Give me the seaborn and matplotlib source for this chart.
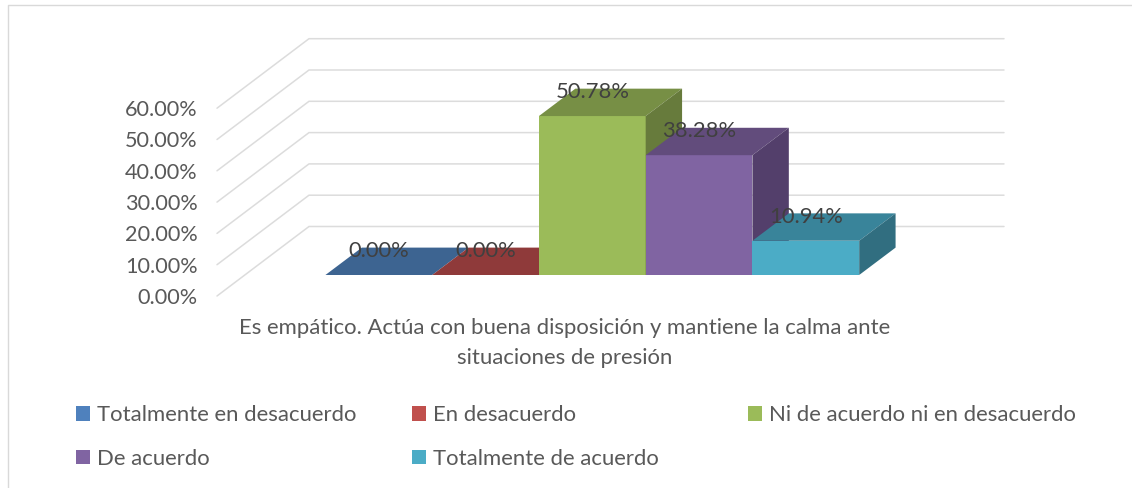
import matplotlib
matplotlib.use('Agg')
import matplotlib.pyplot as plt
from matplotlib.lines import Line2D
from matplotlib.patches import Patch, Polygon
import pandas as pd
import seaborn as sns

# Datos
pregunta = 'Es empático. Actúa con buena disposición y mantiene la calma ante\nsituaciones de presión'
respuestas = ['Totalmente en desacuerdo', 'En desacuerdo', 'Ni de acuerdo ni en desacuerdo',
              'De acuerdo', 'Totalmente de acuerdo']
valores = [0.00, 0.00, 50.78, 38.28, 10.94]
y_ticks = [0, 10, 20, 30, 40, 50, 60]

# Colores: frente, tapa, lateral
frente = ['#4f81bd', '#c0504d', '#9bbb59', '#8064a2', '#4bacc6']
tapa = ['#3d6491', '#8f3a3a', '#778f45', '#624c7c', '#39849a']
lateral = ['#34557c', '#7a3231', '#677b3c', '#533f6b', '#316e80']

sns.set_theme(style='white')
plt.rcParams['font.family'] = ['Lato', 'DejaVu Sans']
W, H = 1132, 488

fig = plt.figure(figsize=(W / 100, H / 100), dpi=100)
ax = fig.add_axes([217 / W, (H - 296) / H, 695 / W, 187.8 / H])

df = pd.DataFrame({'pregunta': pregunta, 'respuesta': respuestas, 'valor': valores})
sns.barplot(data=df, x='pregunta', y='valor', hue='respuesta', hue_order=respuestas,
            palette=frente, saturation=1, width=0.768, gap=0, legend=False, ax=ax)
ax.set_xlim(-0.5, 0.5)
ax.set_ylim(0, 60)

# Un pixel en unidades de datos
px_x = 1 / 695
px_y = 60 / 187.8

# Profundidad de la pared y de las barras
pared_x, pared_y = 92 * px_x, 69.5 * px_y
fondo_x, fondo_y = 36.4 * px_x, 27.4 * px_y
base_x, base_y = 27.8 * px_x, 21 * px_y

# Rejilla en perspectiva
for t in y_ticks:
    ax.plot([-0.5, -0.5 + pared_x, 0.5 + pared_x], [t, t + pared_y, t + pared_y],
            color='#dcdcdc', lw=1.1, clip_on=False, zorder=1, solid_joinstyle='miter')

# Barras: frente desplazado, tapa y lateral
for i, patch in enumerate(ax.patches):
    patch.set_x(patch.get_x() + base_x)
    patch.set_y(patch.get_y() + base_y)
    patch.set_clip_on(False)
    patch.set_zorder(3 + i)
    patch.set_edgecolor('none')
    x0, x1 = patch.get_x(), patch.get_x() + patch.get_width()
    y0, y1 = patch.get_y(), patch.get_y() + patch.get_height()
    ax.add_patch(Polygon([(x0, y1), (x1, y1), (x1 + fondo_x, y1 + fondo_y), (x0 + fondo_x, y1 + fondo_y)],
                         facecolor=tapa[i], edgecolor='none', clip_on=False, zorder=3 + i))
    ax.add_patch(Polygon([(x1, y0), (x1 + fondo_x, y0 + fondo_y), (x1 + fondo_x, y1 + fondo_y), (x1, y1)],
                         facecolor=lateral[i], edgecolor='none', clip_on=False, zorder=3 + i))
    ax.text((x0 + x1) / 2, y1 + 24 * px_y, f'{valores[i]:.2f}%', ha='center', va='center',
            fontsize=15.8, color='#404040', zorder=20)

# Ejes
ax.set_yticks(y_ticks)
ax.set_yticklabels([f'{t:.2f}%' for t in y_ticks], fontsize=15.6, color='#595959')
ax.tick_params(axis='y', length=0, pad=14)
ax.tick_params(axis='x', length=0, pad=16, labelsize=15.9, labelcolor='#595959')
for label in ax.get_xticklabels():
    label.set_linespacing(1.62)
ax.set_xlabel('')
ax.set_ylabel('')
sns.despine(ax=ax, left=True, bottom=True)

# Leyenda: una por columna para respetar las posiciones
columnas = [(0, 3, 76), (1, 4, 412), (2, None, 748)]
for a, b, x_px in columnas:
    idx = [a] if b is None else [a, b]
    fig.legend(handles=[Patch(facecolor=frente[j], edgecolor='none', label=respuestas[j]) for j in idx],
               loc='upper left', bbox_to_anchor=(x_px / W, (H - 405) / H), frameon=False, fontsize=15.9,
               labelcolor='#595959', handlelength=0.65, handleheight=0.65, handletextpad=0.28,
               labelspacing=1.08, borderpad=0, borderaxespad=0)

# Marco de la imagen
fig.add_artist(Line2D([8 / W, 8 / W, 1], [0, (H - 4.5) / H, (H - 4.5) / H], color='#d9d9d9', lw=1.0))

fig.savefig('out.png', dpi=100)
